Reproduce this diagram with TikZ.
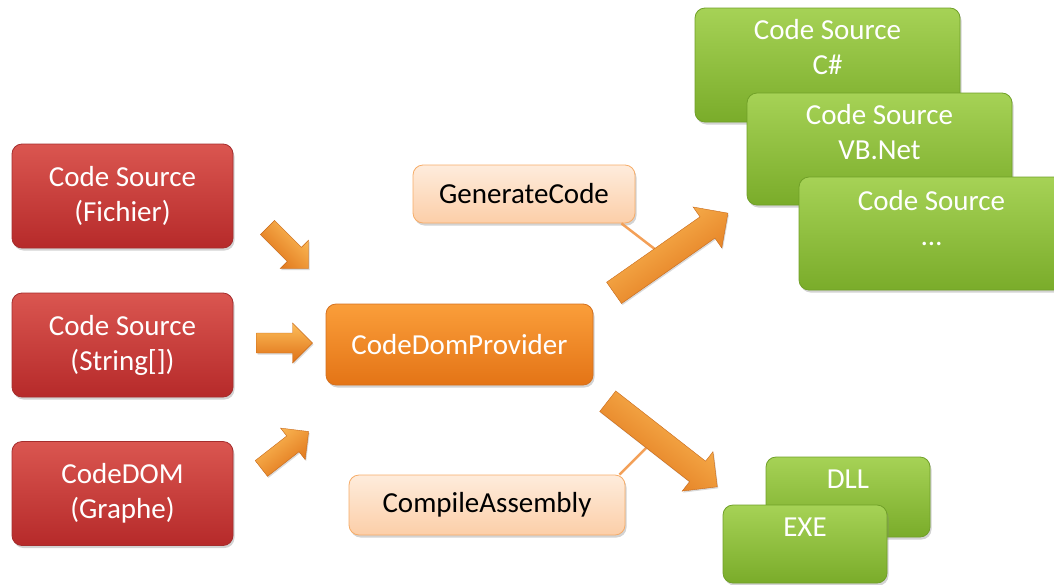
\documentclass[tikz,border=0pt]{standalone}
\usepackage{fontspec}
\setmainfont{Carlito}
\usetikzlibrary{shadows}
\definecolor{redT}{RGB}{218,86,80}
\definecolor{redB}{RGB}{182,42,42}
\definecolor{redD}{RGB}{165,45,45}
\definecolor{orT}{RGB}{250,158,58}
\definecolor{orB}{RGB}{228,116,22}
\definecolor{orD}{RGB}{212,112,30}
\definecolor{peT}{RGB}{254,236,220}
\definecolor{peB}{RGB}{252,206,168}
\definecolor{peD}{RGB}{246,172,104}
\definecolor{lnC}{RGB}{243,160,88}
\definecolor{grT}{RGB}{166,210,86}
\definecolor{grB}{RGB}{122,172,42}
\definecolor{grD}{RGB}{112,160,40}
\definecolor{arT}{RGB}{253,190,90}
\definecolor{arB}{RGB}{222,112,22}
\definecolor{arD}{RGB}{200,105,25}
\tikzset{
  pics/blockarrow/.style n args={5}{code={
    % #1 length, #2 shaft width, #3 head width, #4 head length, #5 angle
    \path[draw=arD, line width=0.4pt, top color=arT, bottom color=arB, shading angle=#5,
          drop shadow={shadow xshift=1pt,shadow yshift=-1.5pt,opacity=0.3}, rotate=#5]
      (-#1/2,-#2/2) -- (#1/2-#4,-#2/2) -- (#1/2-#4,-#3/2) -- (#1/2,0)
      -- (#1/2-#4,#3/2) -- (#1/2-#4,#2/2) -- (-#1/2,#2/2) -- cycle;
  }}
}
\begin{document}
\begin{tikzpicture}[x=1pt,y=-1pt,
  box/.style={rounded corners=10pt, draw, line width=0.8pt,
    drop shadow={shadow xshift=1.5pt,shadow yshift=-2.5pt,opacity=0.35},
    font=\fontsize{29}{35}\selectfont, align=center, inner sep=0pt},
  redbox/.style={box, top color=redT, bottom color=redB, draw=redD, text=white,
    minimum width=221pt, minimum height=104pt},
  corebox/.style={box, top color=orT, bottom color=orB, draw=orD, text=white},
  methbox/.style={box, top color=peT, bottom color=peB, draw=peD, text=black},
  greenbox/.style={box, top color=grT, bottom color=grB, draw=grD},
  gtext/.style={font=\fontsize{29}{35}\selectfont, align=center, text=white, inner sep=0pt},
  callout/.style={draw=lnC, line width=2.5pt}
]
\useasboundingbox (0,0) rectangle (1054,584);

% input boxes
\node[redbox] (fich) at (122.5,196) {Code Source\\(Fichier)};
\node[redbox] (str) at (122.5,345) {Code Source\\(String[])};
\node[redbox] (graph) at (122.5,493.5) {CodeDOM\\(Graphe)};

% provider
\node[corebox, minimum width=267pt, minimum height=81pt] (cdp) at (459.5,344.5) {CodeDomProvider};

% method boxes
\node[methbox, minimum width=222pt, minimum height=58pt] (gen) at (524,194) {GenerateCode};
\node[methbox, minimum width=276pt, minimum height=60pt] (comp) at (487,505) {CompileAssembly};

% output boxes (sources)
\node[greenbox, minimum width=265pt, minimum height=114pt] (cs) at (827.5,65) {};
\node[gtext] (cst) at ([yshift=-39pt]cs.north) {Code Source\\C\#};
\node[greenbox, minimum width=265pt, minimum height=112pt] (vb) at (879.5,149) {};
\node[gtext] (vbt) at ([yshift=-39pt]vb.north) {Code Source\\VB.Net};
\node[greenbox, minimum width=265pt, minimum height=113pt] (oth) at (931.5,233.5) {};
\node[gtext] (otht) at ([yshift=-41pt]oth.north) {Code Source\\\ldots};

% output boxes (assemblies)
\node[greenbox, minimum width=164pt, minimum height=80pt] (dll) at (848,497) {};
\node[gtext] (dllt) at ([yshift=-23pt]dll.north) {DLL};
\node[greenbox, minimum width=164pt, minimum height=78pt] (exe) at (805,544) {};
\node[gtext] (exet) at ([yshift=-23pt]exe.north) {EXE};

% input arrows
\pic (a1) at (288,248) {blockarrow={58}{20}{40}{20}{-45}};
\pic (a2) at (284.5,343) {blockarrow={56}{20}{40}{20}{0}};
\pic (a3) at (285,450) {blockarrow={60}{20}{40}{20}{38}};

% callout connectors
\coordinate (genhook) at (656,250);
\coordinate (comphook) at (646,448);
\draw[callout] ([xshift=-14pt]gen.south east) -- (genhook);
\draw[callout] ([xshift=-6pt]comp.north east) -- (comphook);

% output arrows
\pic (a4) at (671,253) {blockarrow={139}{26}{50}{25}{35}};
\pic (a5) at (662.5,444) {blockarrow={139}{26}{50}{25}{-38}};
\end{tikzpicture}
\end{document}
